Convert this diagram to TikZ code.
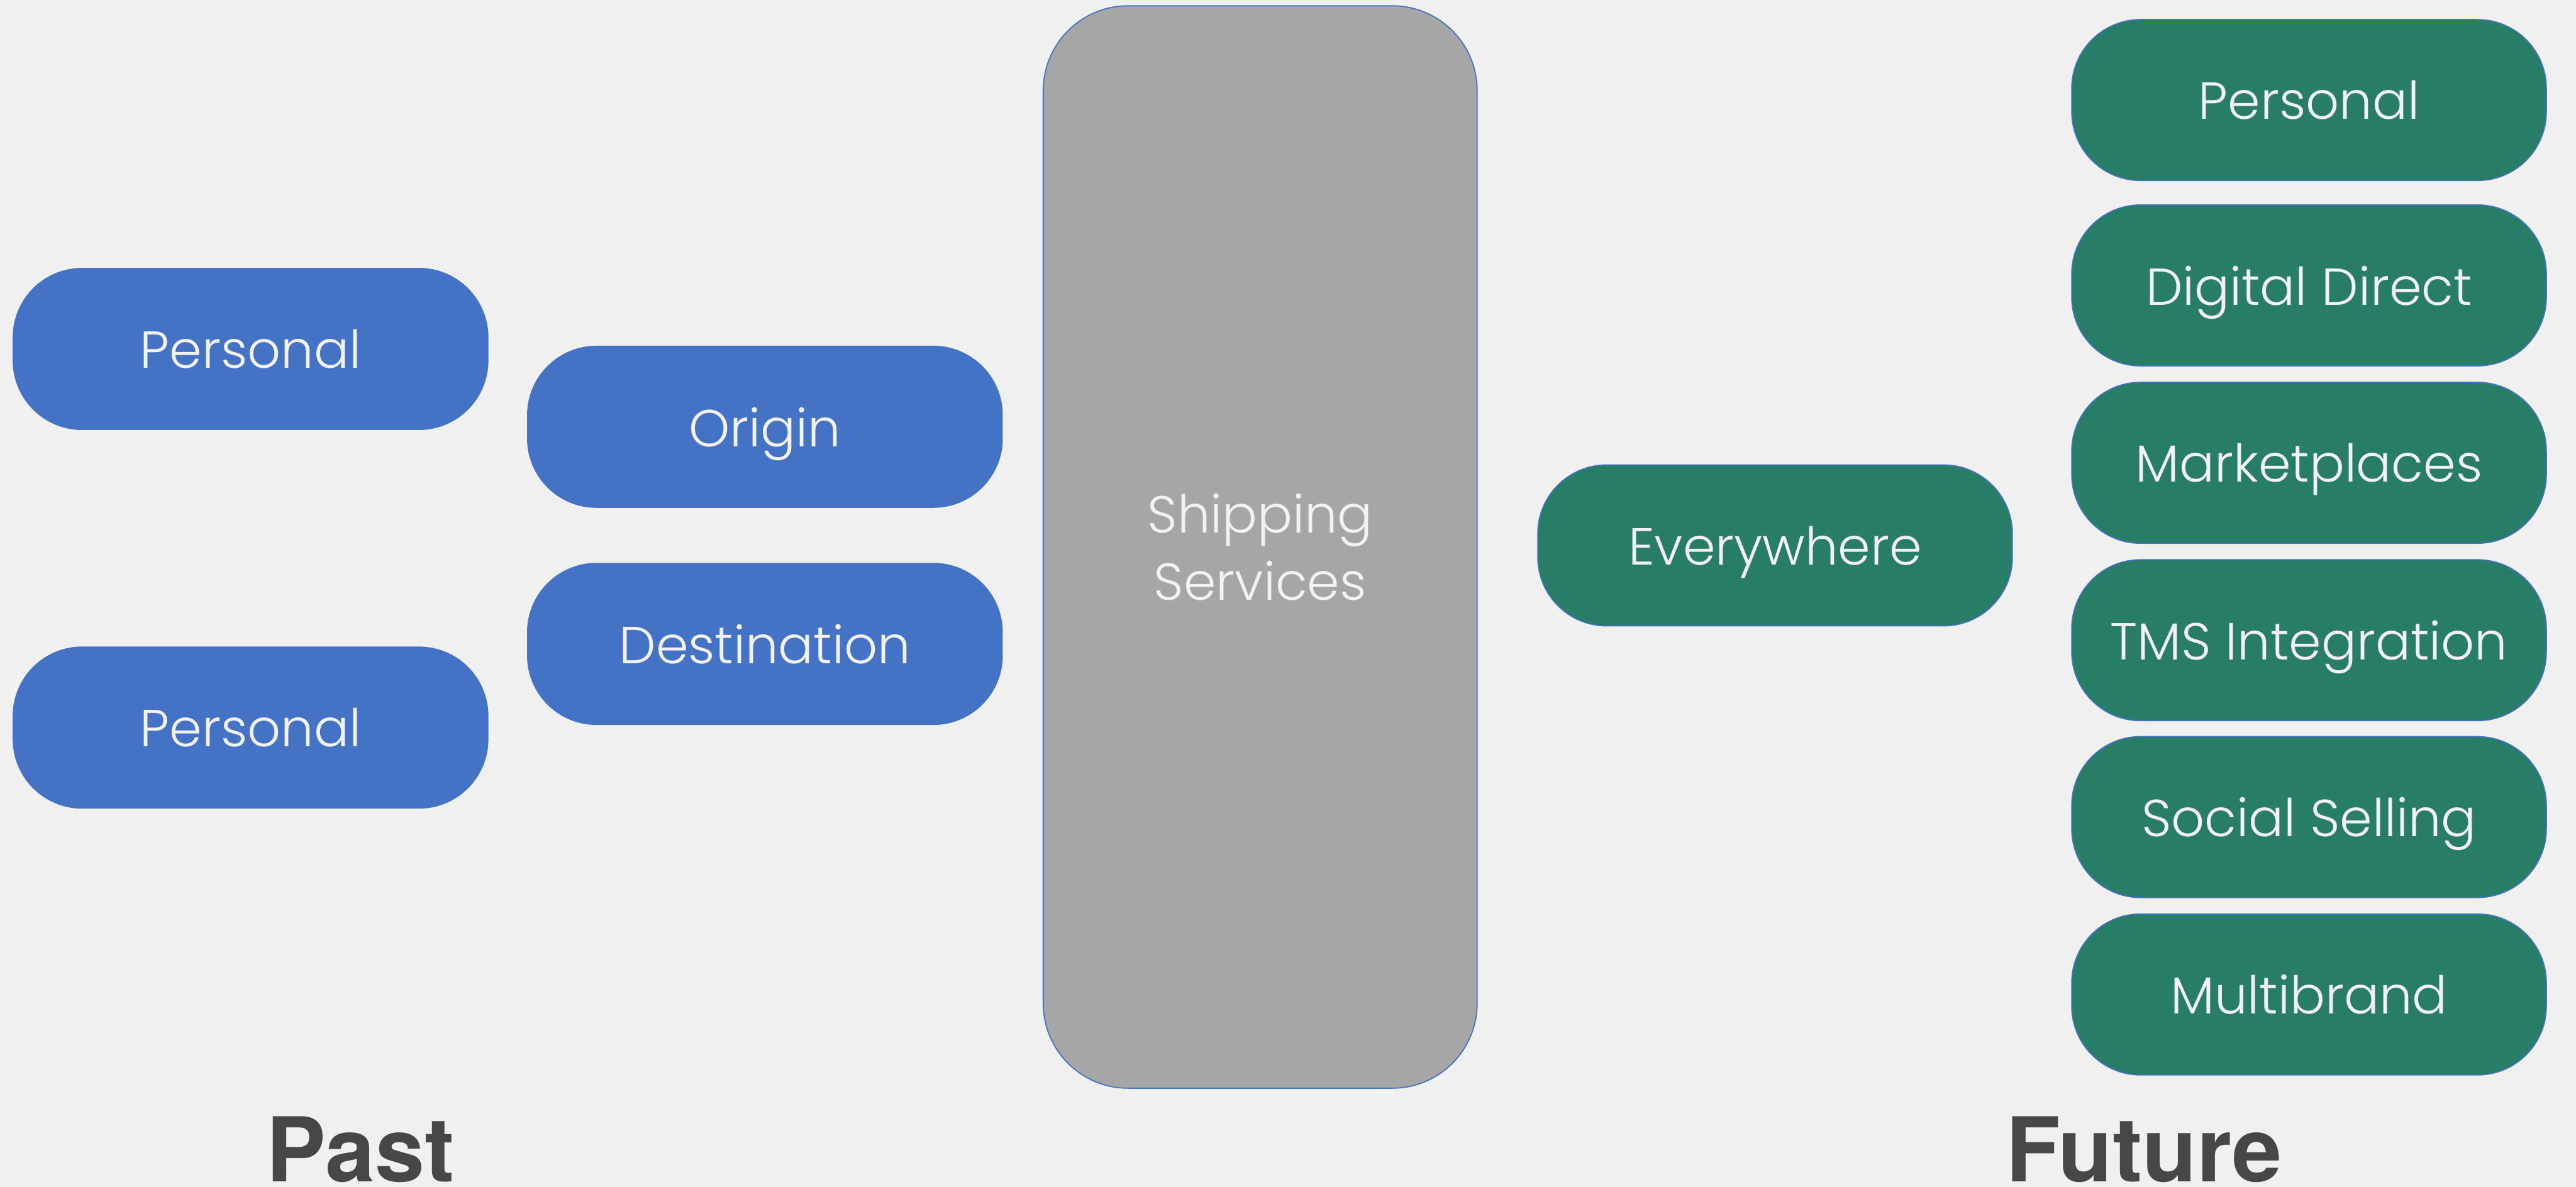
\documentclass[tikz,border=0pt]{standalone}
\usepackage{fontspec}
\newfontfamily\boxfont{Poppins}[UprightFont=* Light]
\newfontfamily\headfont{TeX Gyre Heros}
\usetikzlibrary{positioning}
\definecolor{pageback}{HTML}{F0F0F0}
\definecolor{pastblue}{HTML}{4472C4}
\definecolor{futuregreen}{HTML}{287D67}
\definecolor{hubgray}{HTML}{A6A6A6}
\definecolor{boxtext}{HTML}{F2F2F2}
\definecolor{headtext}{HTML}{474747}
\begin{document}
\begin{tikzpicture}[
pill/.style={fill=#1,draw=pastblue,line width=.6pt,rounded corners=1.3cm,minimum width=8.96cm,minimum height=3.04cm,inner sep=0pt,text depth=0pt,text=boxtext,font=\boxfont\fontsize{28}{34}\selectfont},
head/.style={anchor=base,text=headtext,font=\headfont\bfseries\fontsize{48}{56}\selectfont}]
\fill[pageback] (0,0) rectangle (48.63,22.41);
\useasboundingbox (0,0) rectangle (48.63,22.41);
% past side
\node[pill=pastblue] (pastA) at (4.73,15.82) {Personal};
\node[pill=pastblue] (pastB) at (4.73,8.67) {Personal};
\node[pill=pastblue] (origin) at (14.44,14.35) {Origin};
\node[pill=pastblue] (dest) at (14.44,10.25) {Destination};
% middle
\node[pill=hubgray,minimum width=8.19cm,minimum height=20.44cm,rounded corners=1.6cm,align=center,font=\boxfont\fontsize{28}{36}\selectfont] (ship) at (23.79,12.08) {Shipping\\Services};
% future side
\node[pill=futuregreen] (everywhere) at (33.51,12.11) {Everywhere};
\node[pill=futuregreen] (futA) at (43.59,20.52) {Personal};
\node[pill=futuregreen] (futB) at (43.59,17.02) {Digital Direct};
\node[pill=futuregreen] (futC) at (43.59,13.67) {Marketplaces};
\node[pill=futuregreen] (futD) at (43.59,10.32) {TMS Integration};
\node[pill=futuregreen] (futE) at (43.59,6.98) {Social Selling};
\node[pill=futuregreen] (futF) at (43.59,3.63) {Multibrand};
% captions
\node[head] (past) at (6.80,0.09) {Past};
\node[head] (future) at (40.47,0.09) {Future};
\end{tikzpicture}
\end{document}
